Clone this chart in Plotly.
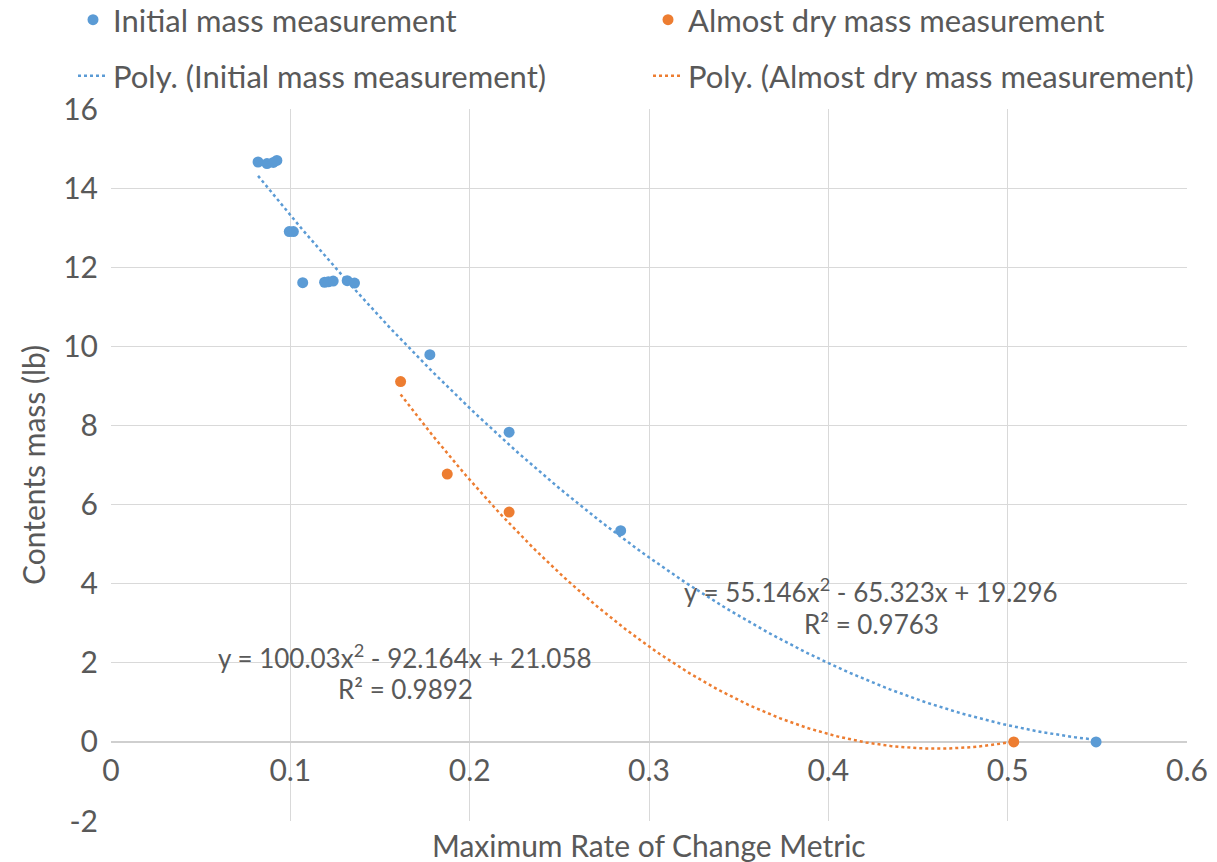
import numpy as np
import plotly.graph_objects as go

# ---- data ----
initial_x = [0.082, 0.087, 0.0905, 0.0925, 0.0994, 0.1017, 0.1069, 0.1191, 0.1212, 0.1239,
             0.1317, 0.1358, 0.1778, 0.222, 0.2842, 0.5493]
initial_y = [14.66, 14.62, 14.65, 14.70, 12.90, 12.90, 11.61, 11.62, 11.63, 11.65,
             11.66, 11.60, 9.79, 7.83, 5.34, 0.0]
dry_x = [0.1615, 0.1875, 0.222, 0.5034]
dry_y = [9.11, 6.77, 5.81, 0.0]

# trendline coefficients as printed on the chart (a, b, c for a*x^2 + b*x + c)
initial_coef = [55.146, -65.323, 19.296]
dry_coef = [100.03, -92.164, 21.058]
initial_r2 = "0.9763"
dry_r2 = "0.9892"

x_ticks = [0, 0.1, 0.2, 0.3, 0.4, 0.5, 0.6]
y_ticks = [-2, 0, 2, 4, 6, 8, 10, 12, 14, 16]

BLUE = "#5B9BD5"
ORANGE = "#ED7D31"
TXT = "#595959"
GRID = "#D9D9D9"
FONT = "Lato, sans-serif"


def poly_curve(coef, xs):
    t = np.linspace(min(xs), max(xs), 200)
    return t, np.polyval(coef, t)


def eq_text(coef):
    a, b, c = coef
    sb = "-" if b < 0 else "+"
    sc = "-" if c < 0 else "+"
    return f"y = {a:g}x<sup>2</sup> {sb} {abs(b):g}x {sc} {abs(c):g}"


fig = go.Figure()
fig.add_trace(go.Scatter(x=initial_x, y=initial_y, mode="markers", name="Initial mass measurement",
                         marker=dict(color=BLUE, size=11), legend="legend", showlegend=True))
fig.add_trace(go.Scatter(x=dry_x, y=dry_y, mode="markers", name="Almost dry mass measurement",
                         marker=dict(color=ORANGE, size=11), legend="legend2", showlegend=True))
tx, ty = poly_curve(initial_coef, initial_x)
fig.add_trace(go.Scatter(x=tx, y=ty, mode="lines", name="Poly. (Initial mass measurement)",
                         line=dict(color=BLUE, width=2.5, dash="dot"), legend="legend3", showlegend=True))
tx, ty = poly_curve(dry_coef, dry_x)
fig.add_trace(go.Scatter(x=tx, y=ty, mode="lines", name="Poly. (Almost dry mass measurement)",
                         line=dict(color=ORANGE, width=2.5, dash="dot"), legend="legend4", showlegend=True))

ann_font = dict(family=FONT, size=26, color=TXT)
annotations = [
    dict(x=0.424, y=3.84, xref="x", yref="y", text=eq_text(initial_coef), showarrow=False, font=ann_font),
    dict(x=0.424, y=2.98, xref="x", yref="y", text=f"R² = {initial_r2}", showarrow=False, font=ann_font),
    dict(x=0.1642, y=2.15, xref="x", yref="y", text=eq_text(dry_coef), showarrow=False, font=ann_font),
    dict(x=0.1642, y=1.34, xref="x", yref="y", text=f"R² = {dry_r2}", showarrow=False, font=ann_font),
    dict(x=0.5, y=-0.0337, xref="paper", yref="paper", yanchor="middle", text="Maximum Rate of Change Metric",
         showarrow=False, font=dict(family=FONT, size=30, color=TXT)),
]

leg_common = dict(orientation="h", xanchor="left", yanchor="middle",
                  xref="container", yref="container", visible=True,
                  font=dict(family=FONT, size=31, color=TXT), bgcolor="rgba(0,0,0,0)")
col1, col2 = 73 / 1217, 648 / 1217
row1, row2 = 1 - 20 / 862, 1 - 76 / 862

fig.update_layout(
    width=1217, height=862,
    showlegend=True,
    margin=dict(l=111, r=30, t=109, b=41, autoexpand=False),
    paper_bgcolor="white", plot_bgcolor="white",
    font=dict(family=FONT, size=30, color=TXT),
    legend=dict(x=col1, y=row1, **leg_common),
    legend2=dict(x=col2, y=row1, **leg_common),
    legend3=dict(x=col1, y=row2, **leg_common),
    legend4=dict(x=col2, y=row2, **leg_common),
    annotations=annotations,
    xaxis=dict(range=[0, 0.6], tickvals=x_ticks, ticktext=[f"{v:g}" for v in x_ticks],
               showgrid=True, gridcolor=GRID, gridwidth=1, zeroline=False,
               anchor="free", position=2 / 18, showline=False,
               tickfont=dict(family=FONT, size=30, color=TXT), ticks="", ticklabelstandoff=8),
    yaxis=dict(range=[-2, 16], tickvals=y_ticks, ticktext=[f"{v:g}" for v in y_ticks],
               showgrid=True, gridcolor=GRID, gridwidth=1,
               zeroline=True, zerolinecolor="#CFCFCF", zerolinewidth=2,
               tickfont=dict(family=FONT, size=30, color=TXT), ticks="", ticklabelstandoff=12,
               title=dict(text="Contents mass (lb)", font=dict(family=FONT, size=30, color=TXT), standoff=8)),
)

fig.write_html("out.html")
